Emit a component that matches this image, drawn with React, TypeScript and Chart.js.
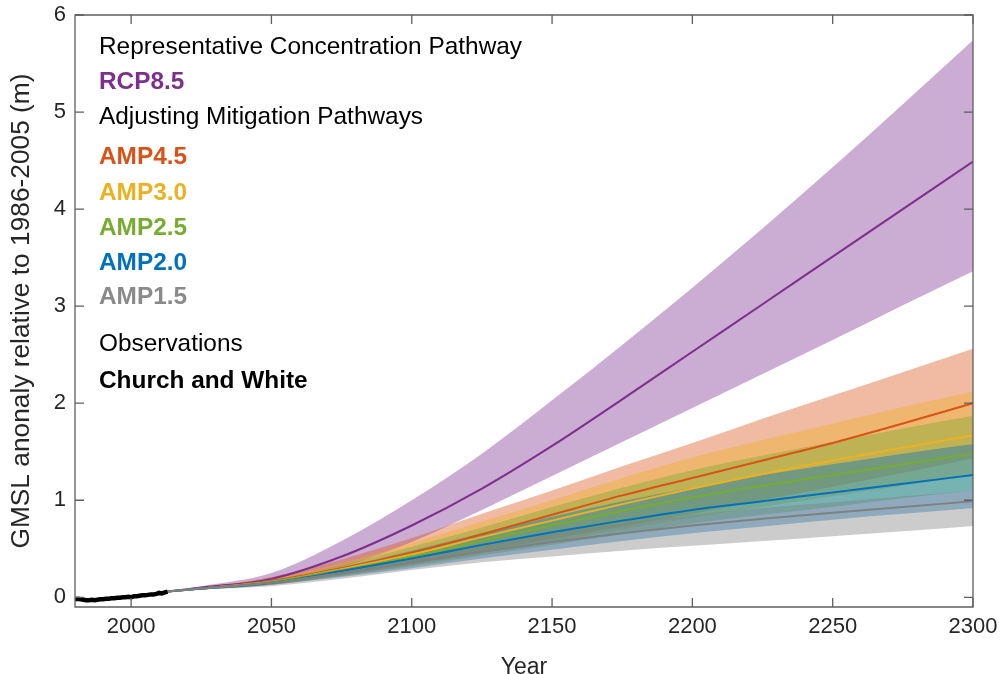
import React, { useEffect, useRef } from "react";
import { Chart, registerables } from "chart.js";

Chart.register(...registerables);

// ---------- data ----------
const obsYears = [1980, 1981, 1982, 1983, 1984, 1985, 1986, 1987, 1988, 1989, 1990, 1991, 1992, 1993, 1994, 1995, 1996, 1997, 1998, 1999, 2000, 2001, 2002, 2003, 2004, 2005, 2006, 2007, 2008, 2009, 2010, 2011, 2012, 2013];
const obsValues = [-0.02, -0.015, -0.02, -0.025, -0.03, -0.03, -0.025, -0.03, -0.025, -0.02, -0.02, -0.015, -0.015, -0.01, -0.01, -0.005, -0.005, 0.0, 0.0, 0.005, 0.0, 0.01, 0.01, 0.015, 0.02, 0.02, 0.025, 0.03, 0.03, 0.035, 0.045, 0.04, 0.05, 0.058];

const projYears = [2013, 2025, 2050, 2075, 2100, 2125, 2150, 2175, 2200, 2225, 2250, 2275, 2300];

const rcp85Mid = [0.06, 0.10, 0.19, 0.42, 0.74, 1.12, 1.56, 2.04, 2.53, 3.02, 3.51, 4.00, 4.49];
const rcp85Hi = [0.06, 0.115, 0.25, 0.58, 1.00, 1.48, 2.03, 2.60, 3.19, 3.80, 4.43, 5.08, 5.74];
const rcp85Lo = [0.06, 0.085, 0.14, 0.31, 0.57, 0.90, 1.25, 1.60, 1.95, 2.30, 2.65, 3.01, 3.36];

const amp45Mid = [0.06, 0.09, 0.17, 0.30, 0.46, 0.65, 0.85, 1.05, 1.23, 1.41, 1.59, 1.79, 2.00];
const amp45Hi = [0.06, 0.10, 0.21, 0.39, 0.61, 0.86, 1.10, 1.35, 1.59, 1.84, 2.08, 2.32, 2.56];
const amp45Lo = [0.06, 0.08, 0.13, 0.23, 0.34, 0.47, 0.60, 0.73, 0.86, 1.00, 1.14, 1.28, 1.43];

const amp30Mid = [0.06, 0.09, 0.16, 0.29, 0.44, 0.62, 0.79, 0.96, 1.12, 1.27, 1.41, 1.54, 1.67];
const amp30Hi = [0.06, 0.10, 0.19, 0.35, 0.56, 0.78, 1.00, 1.23, 1.44, 1.62, 1.79, 1.96, 2.12];
const amp30Lo = [0.06, 0.08, 0.13, 0.22, 0.33, 0.45, 0.57, 0.70, 0.82, 0.93, 1.04, 1.15, 1.25];

const amp25Mid = [0.06, 0.09, 0.16, 0.28, 0.42, 0.58, 0.74, 0.89, 1.03, 1.15, 1.26, 1.37, 1.48];
const amp25Hi = [0.06, 0.10, 0.18, 0.33, 0.52, 0.72, 0.93, 1.13, 1.31, 1.46, 1.60, 1.74, 1.87];
const amp25Lo = [0.06, 0.08, 0.13, 0.22, 0.32, 0.43, 0.54, 0.65, 0.76, 0.85, 0.93, 1.02, 1.10];

const amp20Mid = [0.06, 0.09, 0.15, 0.27, 0.40, 0.54, 0.67, 0.79, 0.90, 0.99, 1.08, 1.17, 1.26];
const amp20Hi = [0.06, 0.10, 0.17, 0.31, 0.48, 0.66, 0.83, 0.99, 1.13, 1.26, 1.37, 1.48, 1.58];
const amp20Lo = [0.06, 0.08, 0.13, 0.21, 0.30, 0.40, 0.49, 0.58, 0.66, 0.73, 0.80, 0.86, 0.92];

const amp15Mid = [0.06, 0.09, 0.15, 0.25, 0.36, 0.47, 0.57, 0.66, 0.74, 0.81, 0.87, 0.93, 0.99];
const amp15Hi = [0.06, 0.09, 0.16, 0.28, 0.41, 0.54, 0.66, 0.76, 0.85, 0.92, 0.98, 1.04, 1.10];
const amp15Lo = [0.06, 0.08, 0.115, 0.19, 0.28, 0.36, 0.42, 0.48, 0.53, 0.58, 0.63, 0.68, 0.735];

const xTickValues = [2000, 2050, 2100, 2150, 2200, 2250, 2300];
const yTickValues = [0, 1, 2, 3, 4, 5, 6];

const scenarioNames = ["RCP8.5", "AMP4.5", "AMP3.0", "AMP2.5", "AMP2.0", "AMP1.5"];
const scenarioColors = ["#7E2F8E", "#D95319", "#EDB120", "#77AC30", "#0072BD", "#808080"];
const scenarioFills = [
  "rgba(126,47,142,0.4)",
  "rgba(217,83,25,0.4)",
  "rgba(237,177,32,0.4)",
  "rgba(119,172,48,0.4)",
  "rgba(0,114,189,0.4)",
  "rgba(128,128,128,0.4)",
];
const scenarioMid = [rcp85Mid, amp45Mid, amp30Mid, amp25Mid, amp20Mid, amp15Mid];
const scenarioHi = [rcp85Hi, amp45Hi, amp30Hi, amp25Hi, amp20Hi, amp15Hi];
const scenarioLo = [rcp85Lo, amp45Lo, amp30Lo, amp25Lo, amp20Lo, amp15Lo];

const legendLines = [
  { text: "Representative Concentration Pathway", color: "#000000", bold: false, y: 45 },
  { text: "RCP8.5", color: scenarioColors[0], bold: true, y: 80.5 },
  { text: "Adjusting Mitigation Pathways", color: "#000000", bold: false, y: 115.5 },
  { text: "AMP4.5", color: scenarioColors[1], bold: true, y: 155 },
  { text: "AMP3.0", color: scenarioColors[2], bold: true, y: 191.5 },
  { text: "AMP2.5", color: scenarioColors[3], bold: true, y: 226.5 },
  { text: "AMP2.0", color: scenarioColors[4], bold: true, y: 261 },
  { text: "AMP1.5", color: "#8A8A8A", bold: true, y: 295 },
  { text: "Observations", color: "#000000", bold: false, y: 342.5 },
  { text: "Church and White", color: "#000000", bold: true, y: 379 },
];

const FONT = "'Liberation Sans', Arial, Helvetica, sans-serif";
const AXIS_COLOR = "#262626";

const pts = (xs: number[], ys: number[]) => xs.map((x, i) => ({ x, y: ys[i] }));

const framePlugin = {
  id: "frameTicks",
  afterDatasetsDraw(chart: any) {
    const { ctx, chartArea, scales } = chart;
    const { left, right, top, bottom } = chartArea;
    ctx.save();
    ctx.strokeStyle = "#5f5f5f";
    ctx.lineWidth = 1.3;
    ctx.beginPath();
    ctx.rect(left, top, right - left, bottom - top);
    ctx.stroke();
    const tl = 9;
    ctx.beginPath();
    for (const v of xTickValues) {
      const px = scales.x.getPixelForValue(v);
      ctx.moveTo(px, bottom);
      ctx.lineTo(px, bottom - tl);
      ctx.moveTo(px, top);
      ctx.lineTo(px, top + tl);
    }
    for (const v of yTickValues) {
      const py = scales.y.getPixelForValue(v);
      ctx.moveTo(left, py);
      ctx.lineTo(left + tl, py);
      ctx.moveTo(right, py);
      ctx.lineTo(right - tl, py);
    }
    ctx.stroke();
    ctx.restore();
  },
  afterDraw(chart: any) {
    const { ctx } = chart;
    ctx.save();
    ctx.textAlign = "left";
    ctx.textBaseline = "alphabetic";
    for (const l of legendLines) {
      ctx.font = `${l.bold ? "bold " : ""}24.4px ${FONT}`;
      ctx.fillStyle = l.color;
      ctx.fillText(l.text, 99, l.y + 8.7);
    }
    ctx.restore();
  },
};

export default function App() {
  const canvasRef = useRef<HTMLCanvasElement | null>(null);

  useEffect(() => {
    if (!canvasRef.current) return;
    const datasets: any[] = [];
    // bands
    scenarioNames.forEach((name, i) => {
      datasets.push({
        label: name + " upper",
        data: pts(projYears, scenarioHi[i]),
        borderWidth: 0,
        pointRadius: 0,
        backgroundColor: scenarioFills[i],
        fill: "+1",
        cubicInterpolationMode: "monotone",
        order: 100 - i * 10,
      });
      datasets.push({
        label: name + " lower",
        data: pts(projYears, scenarioLo[i]),
        borderWidth: 0,
        pointRadius: 0,
        fill: false,
        cubicInterpolationMode: "monotone",
        order: 100 - i * 10,
      });
    });
    // medians
    scenarioNames.forEach((name, i) => {
      datasets.push({
        label: name,
        data: pts(projYears, scenarioMid[i]),
        borderColor: scenarioColors[i],
        borderWidth: 2,
        pointRadius: 0,
        fill: false,
        cubicInterpolationMode: "monotone",
        order: 10 - i,
      });
    });
    datasets.push({
      label: "Church and White",
      data: pts(obsYears, obsValues),
      borderColor: "#000000",
      borderWidth: 4.5,
      pointRadius: 0,
      fill: false,
      order: 0,
    });

    const chart = new Chart(canvasRef.current, {
      type: "line",
      data: { datasets },
      options: {
        animation: false,
        responsive: false,
        maintainAspectRatio: false,
        layout: { padding: { left: 0, right: 29, top: 15, bottom: 0 } },
        plugins: {
          legend: { display: false },
          tooltip: { enabled: false },
          filler: { propagate: false },
        },
        scales: {
          x: {
            type: "linear",
            min: 1980,
            max: 2300,
            grid: { display: false, drawTicks: false },
            border: { display: false },
            afterBuildTicks: (s: any) => {
              s.ticks = xTickValues.map((v) => ({ value: v }));
            },
            afterFit: (s: any) => {
              s.height = 67;
              s.paddingLeft = 0;
              s.paddingRight = 0;
            },
            ticks: {
              color: AXIS_COLOR,
              font: { family: FONT, size: 22 },
              padding: 7,
              maxRotation: 0,
              autoSkip: false,
              callback: (v: any) => String(v),
            },
            title: {
              display: true,
              text: "Year",
              color: AXIS_COLOR,
              font: { family: FONT, size: 23 },
              padding: { top: 0, bottom: -7 },
            },
          },
          y: {
            type: "linear",
            min: -0.1,
            max: 6,
            grid: { display: false, drawTicks: false },
            border: { display: false },
            afterBuildTicks: (s: any) => {
              s.ticks = yTickValues.map((v) => ({ value: v }));
            },
            afterFit: (s: any) => {
              s.width = 75;
              s.paddingTop = 0;
              s.paddingBottom = 0;
            },
            ticks: {
              color: AXIS_COLOR,
              font: { family: FONT, size: 22 },
              padding: 9,
              autoSkip: false,
              callback: (v: any) => String(v),
            },
            title: {
              display: true,
              text: "GMSL anonaly relative to 1986-2005 (m)",
              color: AXIS_COLOR,
              font: { family: FONT, size: 26.3 },
              padding: { top: 6, bottom: 0 },
            },
          },
        },
      },
      plugins: [framePlugin],
    } as any);

    return () => chart.destroy();
  }, []);

  return (
    <div style={{ position: "absolute", left: 0, top: 0, width: 1002, height: 674, background: "#ffffff" }}>
      <canvas ref={canvasRef} width={1002} height={674} style={{ display: "block" }} />
    </div>
  );
}
